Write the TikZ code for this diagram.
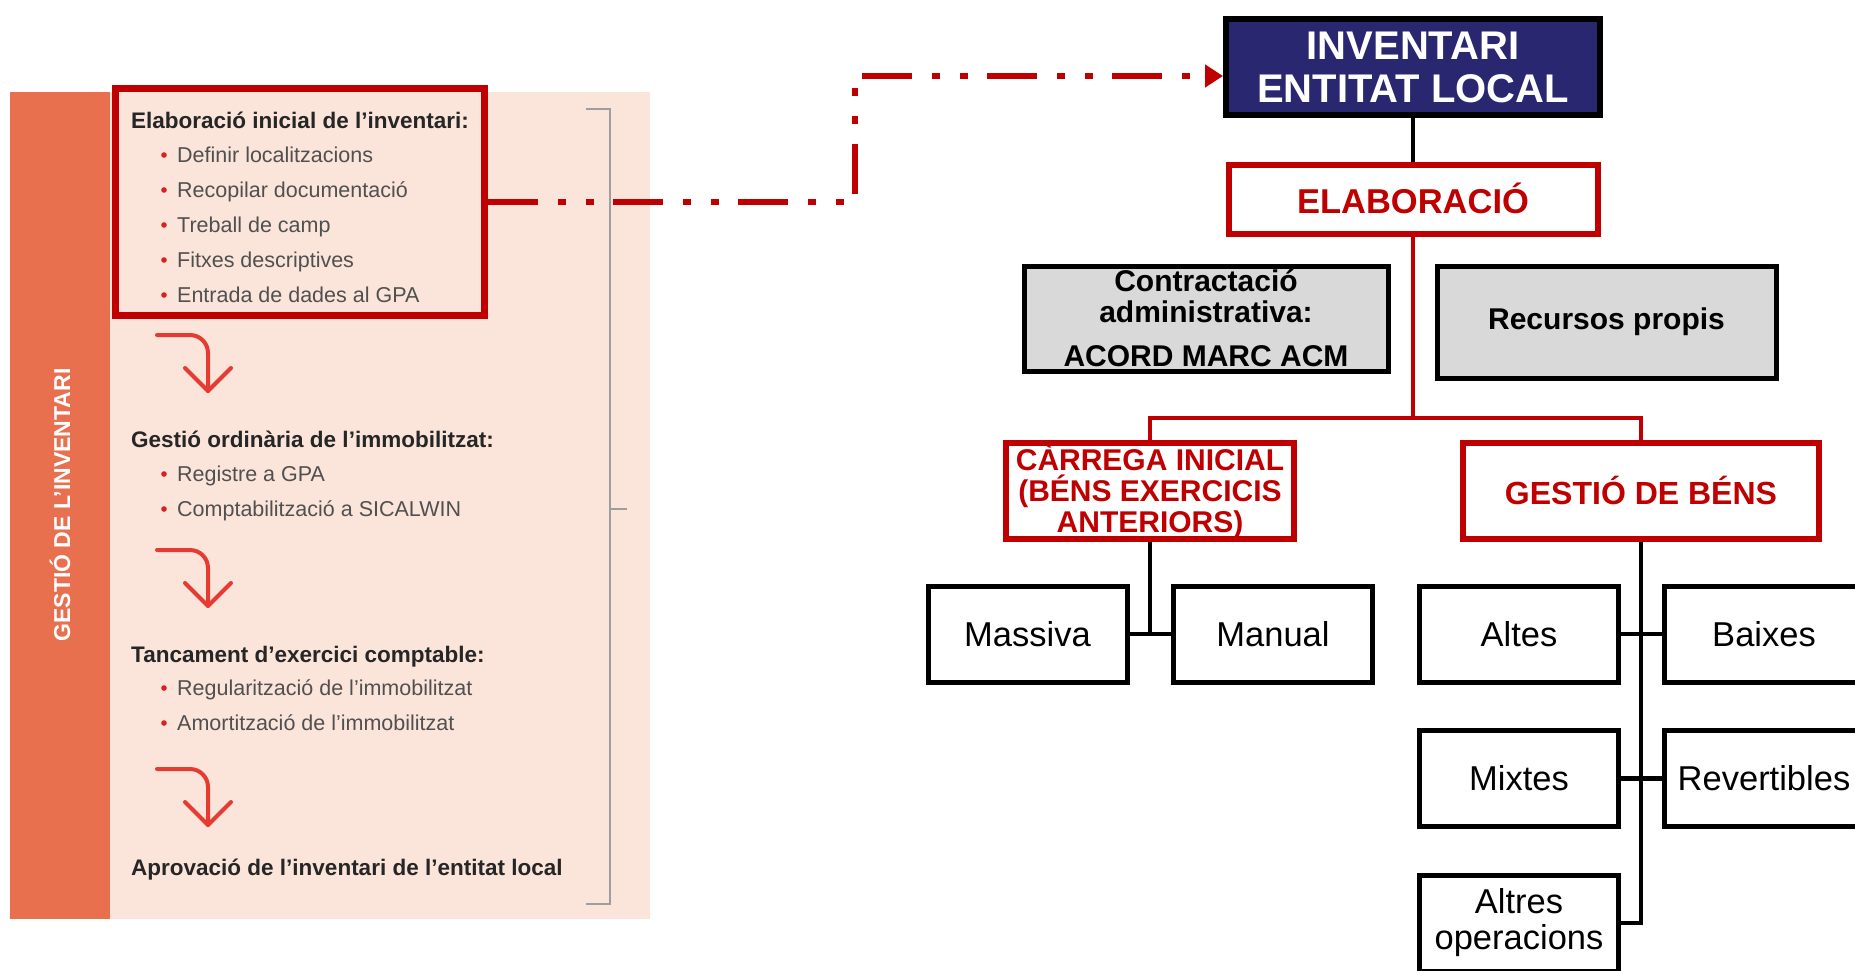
\documentclass[tikz,border=0pt]{standalone}
\usepackage{fontspec}
\setmainfont{Liberation Sans}
\usetikzlibrary{arrows.meta}
\definecolor{chartred}{HTML}{C00000}
\definecolor{navy}{HTML}{28276F}
\definecolor{boxgray}{HTML}{D9D9D9}
\definecolor{stripor}{HTML}{E8704F}
\definecolor{panelpink}{HTML}{FBE4DA}
\definecolor{arrowred}{HTML}{E63B33}
\definecolor{bulletred}{HTML}{D92020}
\definecolor{bodygray}{HTML}{505050}
\definecolor{headdark}{HTML}{262626}
\definecolor{brackgray}{HTML}{9E9E9E}
\tikzset{
  box/.style={rectangle, draw=black, line width=5pt, inner sep=0pt, align=center, text=black},
  invbox/.style={box, line width=6pt, fill=navy, text=white, minimum width=374pt, minimum height=96pt,
    font=\bfseries\fontsize{40}{43}\selectfont},
  redbox/.style={rectangle, draw=chartred, line width=6pt, fill=white, inner sep=0pt, align=center,
    text=chartred, font=\bfseries\fontsize{31}{31}\selectfont},
  graybox/.style={box, fill=boxgray, font=\bfseries\fontsize{30}{31}\selectfont},
  leaf/.style={box, fill=white, minimum width=199pt, minimum height=96pt, font=\fontsize{34.5}{36}\selectfont},
  blackline/.style={draw=black, line width=4.5pt},
  redline/.style={draw=chartred, line width=3.5pt},
  linkline/.style={draw=chartred, line width=6pt,
    dash pattern=on 50pt off 20pt on 8pt off 20pt on 8pt off 19pt,
    -{Triangle[length=18pt,width=22pt]}},
  headtxt/.style={anchor=base west, inner sep=0pt, text=headdark, font=\bfseries\fontsize{22.5}{22}\selectfont},
  bultxt/.style={anchor=base west, inner sep=0pt, text=bodygray, font=\fontsize{21.5}{21}\selectfont},
  flowarrow/.style={draw=arrowred, line width=4pt, line cap=round, line join=round},
  bracketline/.style={draw=brackgray, line width=2.5pt}
}
\begin{document}
\begin{tikzpicture}[x=1pt,y=-1pt]
\useasboundingbox (0,0) rectangle (1855,970);
\clip (0,0) rectangle (1855,970);
\fill[white] (0,0) rectangle (1855,970);

% ---------- left panel ----------
\fill[panelpink] (110,92) rectangle (650,919);
\fill[stripor] (10,92) rectangle (110,919);
\node[rotate=90, text=white, font=\bfseries\fontsize{23}{23}\selectfont] (side) at (60,505) {GESTIÓ DE L’INVENTARI};

\draw[bracketline] (586,109) -- (610,109) -- (610,904) -- (586,904);
\draw[bracketline] (610,509) -- (627,509);

\node[rectangle, draw=chartred, line width=7pt, minimum width=369pt, minimum height=227pt, inner sep=0pt] (elabbox) at (299.5,201.5) {};

\node[headtxt] (h1) at (131,128) {Elaboració inicial de l’inventari:};
\foreach \y/\t in {162/Definir localitzacions, 197/Recopilar documentació, 232/Treball de camp, 267/Fitxes descriptives, 302/Entrada de dades al GPA}{
  \fill[bulletred] (164,\y-7) circle (2.8);
  \node[bultxt] at (177,\y) {\t};
}

\node[headtxt] (h2) at (131,447) {Gestió ordinària de l’immobilitzat:};
\foreach \y/\t in {481/Registre a GPA, 516/Comptabilització a SICALWIN}{
  \fill[bulletred] (164,\y-7) circle (2.8);
  \node[bultxt] at (177,\y) {\t};
}

\node[headtxt] (h3) at (131,662) {Tancament d’exercici comptable:};
\foreach \y/\t in {695/Regularització de l’immobilitzat, 730/Amortització de l’immobilitzat}{
  \fill[bulletred] (164,\y-7) circle (2.8);
  \node[bultxt] at (177,\y) {\t};
}

\node[headtxt] (h4) at (131,875) {Aprovació de l’inventari de l’entitat local};

\foreach \t in {335,550,769}{
  \draw[flowarrow, rounded corners=18pt] (157,\t) -- (208,\t) -- (208,\t+56);
  \draw[flowarrow] (185,\t+33) -- (208,\t+56) -- (231,\t+33);
}

% ---------- right chart ----------
\node[invbox] (inv) at (1413,67) {INVENTARI\\ENTITAT LOCAL};
\node[redbox, minimum width=369pt, minimum height=69pt, font=\bfseries\fontsize{34.5}{35}\selectfont] (elab) at (1413,199.5) {\raisebox{2pt}{ELABORACIÓ}};

\node[graybox, minimum width=364pt, minimum height=105pt] (contr) at (1206,318.5) {Contractació\\administrativa:\\[13pt]ACORD MARC ACM};
\node[graybox, minimum width=339pt, minimum height=112pt] (recur) at (1606.5,322) {Recursos propis};

\node[redbox, minimum width=288pt, minimum height=96pt, font=\bfseries\fontsize{30}{31}\selectfont] (carrega) at (1150,491) {CÀRREGA INICIAL\\(BÉNS EXERCICIS\\ANTERIORS)};
\node[redbox, minimum width=356pt, minimum height=96pt, font=\bfseries\fontsize{32}{32}\selectfont] (gestio) at (1641,491) {\raisebox{2pt}{GESTIÓ DE BÉNS}};

\node[leaf] (massiva) at (1027.5,634) {Massiva};
\node[leaf] (manual) at (1273,634) {Manual};
\node[leaf] (altes) at (1519,634) {Altes};
\node[leaf] (baixes) at (1764,634) {Baixes};
\node[leaf] (mixtes) at (1519,778.5) {Mixtes};
\node[leaf] (revert) at (1764,778.5) {Revertibles};
\node[leaf] (altres) at (1519,923) {Altres\\operacions};

\coordinate (jr) at (1413,418);
\draw[blackline] (inv.south) -- (elab.north);
\draw[redline] (elab.south) -- (jr);
\draw[redline] (carrega.north) |- (jr) -| (gestio.north);
\draw[blackline] (carrega.south) |- (massiva.east);
\draw[blackline] (carrega.south) |- (manual.west);
\draw[blackline] (gestio.south) |- (altres.east);
\draw[blackline] (altes.east) -- (baixes.west);
\draw[blackline] (mixtes.east) -- (revert.west);

\coordinate (bend) at (855,76);
\draw[linkline] (elabbox.east) -| (bend) -- (inv.west |- bend);
\end{tikzpicture}
\end{document}
